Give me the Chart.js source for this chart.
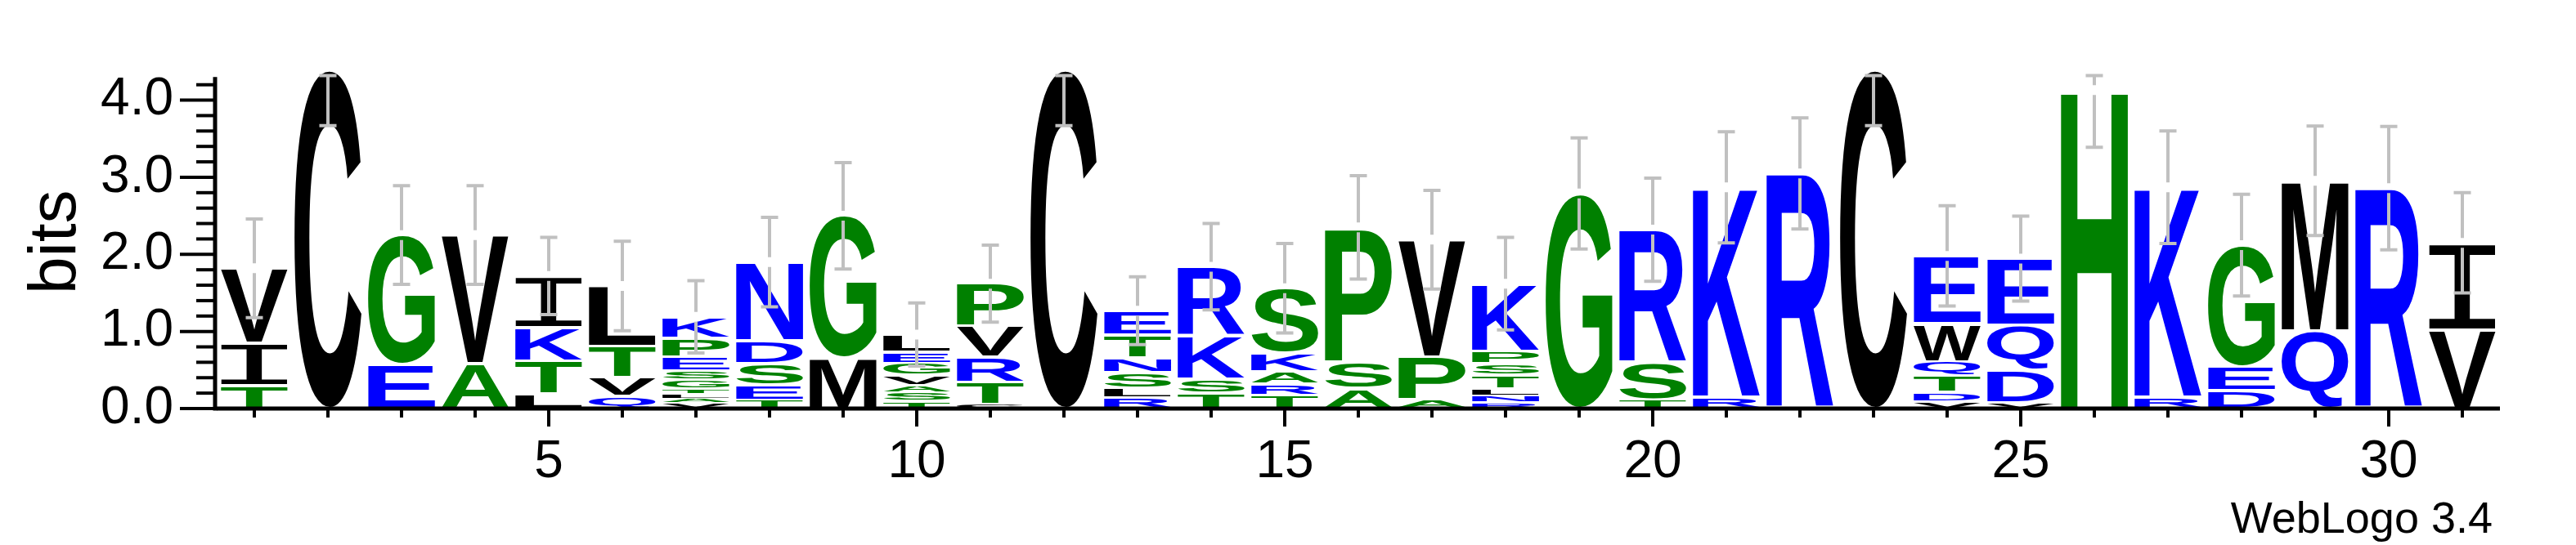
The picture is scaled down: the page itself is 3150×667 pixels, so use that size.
<!DOCTYPE html>
<html>
<head>
<meta charset="utf-8">
<script src="https://cdn.jsdelivr.net/npm/chart.js@4.4.1/dist/chart.umd.min.js"></script>
<style>
  html, body { margin: 0; padding: 0; background: #ffffff; }
  canvas { display: block; }
</style>
</head>
<body>
<canvas id="logo" width="3150" height="667" style="width:3150px;height:667px"></canvas>
<script>
// ---- data (letters stacked bottom -> top, heights in bits) ----
const positions = ['1','2','3','4','5','6','7','8','9','10','11','12','13','14','15','16',
                   '17','18','19','20','21','22','23','24','25','26','27','28','29','30','31'];

const stackLetters = [
  ['T','I','V'],
  ['C'],
  ['E','G'],
  ['A','V'],
  ['L','T','K','I'],
  ['Q','V','T','L'],
  ['V','A','L','T','G','S','E','P','K'],
  ['T','E','S','D','N'],
  ['M','G'],
  ['T','S','A','V','G','E','L'],
  ['C','T','R','V','P'],
  ['C'],
  ['R','L','S','N','T','E'],
  ['T','S','K','R'],
  ['T','R','A','K','S'],
  ['A','S','P'],
  ['A','P','V'],
  ['R','N','L','T','S','P','K'],
  ['G'],
  ['T','S','R'],
  ['R','K'],
  ['R'],
  ['C'],
  ['V','D','T','Q','W','E'],
  ['V','D','Q','E'],
  ['H'],
  ['R','K'],
  ['D','E','G'],
  ['Q','M'],
  ['R'],
  ['V','I']
];

const stackBits = [
  [0.30,0.545,0.975],
  [4.40],
  [0.57,1.68],
  [0.58,1.67],
  [0.19,0.43,0.43,0.67],
  [0.16,0.25,0.40,0.78],
  [0.08,0.05,0.06,0.065,0.12,0.115,0.18,0.245,0.275],
  [0.11,0.20,0.27,0.30,1.02],
  [0.65,1.85],
  [0.10,0.11,0.09,0.13,0.16,0.14,0.23],
  [0.05,0.29,0.33,0.40,0.55],
  [4.40],
  [0.14,0.13,0.20,0.19,0.30,0.31],
  [0.20,0.18,0.56,0.90],
  [0.17,0.15,0.16,0.24,0.84],
  [0.26,0.35,1.74],
  [0.12,0.55,1.52],
  [0.08,0.09,0.09,0.17,0.15,0.165,0.875],
  [2.79],
  [0.11,0.48,1.73],
  [0.15,2.72],
  [3.05],
  [4.40],
  [0.09,0.12,0.21,0.19,0.49,0.88],
  [0.08,0.42,0.58,0.865],
  [4.13],
  [0.15,2.72],
  [0.23,0.31,1.58],
  [1.01,1.945],
  [2.86],
  [1.02,1.13]
];

const errorBits = [0.64,0.73,0.64,0.64,0.50,0.58,0.47,0.58,0.69,0.41,0.50,0.73,0.44,0.56,0.58,0.67,
                   0.64,0.60,0.72,0.67,0.72,0.72,0.73,0.65,0.55,0.74,0.73,0.66,0.71,0.80,0.65];

const xTickLabels = ['5','10','15','20','25','30'];
const yTickLabels = ['0.0','1.0','2.0','3.0','4.0'];
const maxBits = 4.32;

const letterColors = {
  black: ['C','V','L','M','W','I','F'],
  green: ['G','A','T','S','P','H','Y'],
  blue:  ['E','K','Q','N','D','R']
};
const colorValues = { black: '#000000', green: '#008000', blue: '#0000ff' };

// ---- helpers ----
function colorOf(ch) {
  for (const k in letterColors) if (letterColors[k].includes(ch)) return colorValues[k];
  return '#000000';
}
const glyphCache = {};
function glyphFont(ch) {
  return ch === 'I' ? '200px "Liberation Mono"' : 'bold 200px "Liberation Sans"';
}
function drawGlyph(ctx, ch, x, y, w, h, color) {
  if (w <= 0 || h <= 0.2) return;
  ctx.save();
  ctx.font = glyphFont(ch);
  ctx.textAlign = 'left';
  ctx.textBaseline = 'alphabetic';
  let m = glyphCache[ch];
  if (!m) {
    const t = ctx.measureText(ch);
    m = { l: t.actualBoundingBoxLeft, r: t.actualBoundingBoxRight,
          a: t.actualBoundingBoxAscent, d: t.actualBoundingBoxDescent };
    glyphCache[ch] = m;
  }
  const iw = m.l + m.r, ih = m.a + m.d;
  ctx.translate(x, y);
  ctx.scale(w / iw, h / ih);
  ctx.fillStyle = color;
  ctx.fillText(ch, m.l, m.a);
  ctx.restore();
}

const nLayers = Math.max(...stackLetters.map(a => a.length));
const datasets = [];
for (let k = 0; k < nLayers; k++) {
  datasets.push({
    label: 'layer ' + (k + 1),
    data: stackBits.map(a => (a[k] === undefined ? 0 : a[k])),
    backgroundColor: 'rgba(0,0,0,0)',
    borderWidth: 0,
    barPercentage: 0.91,
    categoryPercentage: 1.0,
    stack: 'logo'
  });
}

const logoPlugin = {
  id: 'logoPlugin',
  afterDatasetsDraw(chart) {
    const ctx = chart.ctx;
    const xs = chart.scales.x, ys = chart.scales.y;
    // letters
    chart.data.datasets.forEach((ds, k) => {
      const meta = chart.getDatasetMeta(k);
      meta.data.forEach((bar, j) => {
        const ch = stackLetters[j][k];
        if (!ch) return;
        const p = bar.getProps(['x', 'y', 'base', 'width'], true);
        const top = Math.min(p.y, p.base), bot = Math.max(p.y, p.base);
        const h = bot - top;
        const g = Math.min(1.8, h * 0.15);
        drawGlyph(ctx, ch, p.x - p.width / 2, top + g, p.width, h - 2 * g, colorOf(ch));
      });
    });
    // error bars
    ctx.save();
    ctx.strokeStyle = '#c0c0c0';
    ctx.lineWidth = 4;
    ctx.lineCap = 'butt';
    stackBits.forEach((arr, j) => {
      const total = arr.reduce((s, v) => s + v, 0);
      const x = xs.getPixelForValue(j);
      const yc = ys.getPixelForValue(total);
      const yHi = ys.getPixelForValue(Math.min(total + errorBits[j], maxBits));
      const yLo = ys.getPixelForValue(Math.max(total - errorBits[j], 0));
      const gap = 6;
      ctx.beginPath();
      if (yc - gap > yHi) { ctx.moveTo(x, yHi); ctx.lineTo(x, yc - gap); }
      if (yLo > yc + gap) { ctx.moveTo(x, yc + gap); ctx.lineTo(x, yLo); }
      ctx.moveTo(x - 10.5, yHi); ctx.lineTo(x + 10.5, yHi);
      ctx.moveTo(x - 10.5, yLo); ctx.lineTo(x + 10.5, yLo);
      ctx.stroke();
    });
    ctx.restore();
  },
  afterDraw(chart) {
    const ctx = chart.ctx;
    const xs = chart.scales.x, ys = chart.scales.y;
    const y0 = ys.getPixelForValue(0);
    const axX = xs.left - 3;
    ctx.save();
    ctx.strokeStyle = '#000000';
    // y axis line
    ctx.lineWidth = 5;
    ctx.beginPath();
    ctx.moveTo(axX, ys.getPixelForValue(4.30));
    ctx.lineTo(axX, y0 + 2.5);
    ctx.stroke();
    // x axis line
    ctx.beginPath();
    ctx.moveTo(xs.left - 1, y0);
    ctx.lineTo(xs.right + 1, y0);
    ctx.stroke();
    // y ticks
    ctx.lineWidth = 4;
    for (let i = 0; i <= 21; i++) {
      const v = i * 0.2;
      const y = ys.getPixelForValue(v);
      const len = (i % 5 === 0) ? 43 : 23;
      ctx.beginPath();
      ctx.moveTo(axX - len, y);
      ctx.lineTo(axX, y);
      ctx.stroke();
    }
    // x ticks
    positions.forEach((p, j) => {
      const x = xs.getPixelForValue(j);
      const len = xTickLabels.includes(p) ? 22 : 11;
      ctx.beginPath();
      ctx.moveTo(x, y0);
      ctx.lineTo(x, y0 + len);
      ctx.stroke();
    });
    // version text
    ctx.fillStyle = '#000000';
    ctx.font = '54px "Liberation Sans"';
    ctx.textAlign = 'right';
    ctx.textBaseline = 'alphabetic';
    ctx.fillText('WebLogo 3.4', 3048, 652);
    ctx.restore();
  }
};

new Chart(document.getElementById('logo'), {
  type: 'bar',
  data: { labels: positions, datasets: datasets },
  options: {
    responsive: false,
    devicePixelRatio: 1,
    animation: false,
    layout: { padding: { top: 48, right: 94, bottom: 0, left: 0 } },
    plugins: { legend: { display: false }, tooltip: { enabled: false }, title: { display: false } },
    scales: {
      x: {
        type: 'category',
        stacked: true,
        offset: true,
        grid: { display: false, drawTicks: false },
        border: { display: false },
        ticks: {
          autoSkip: false,
          maxRotation: 0,
          minRotation: 0,
          padding: 28,
          color: '#000000',
          font: { family: '"Liberation Sans"', size: 64 },
          callback: function(value, index) {
            const lab = positions[index];
            return xTickLabels.includes(lab) ? lab : '';
          }
        },
        afterFit: function(scale) { scale.height = 167; }
      },
      y: {
        stacked: true,
        min: 0,
        max: maxBits,
        grid: { display: false, drawTicks: false },
        border: { display: false },
        afterBuildTicks: function(scale) {
          scale.ticks = yTickLabels.map(t => ({ value: parseFloat(t) }));
        },
        ticks: {
          padding: 54,
          color: '#000000',
          font: { family: '"Liberation Sans"', size: 64 },
          callback: function(value) {
            const s = Number(value).toFixed(1);
            return yTickLabels.includes(s) ? s : '';
          }
        },
        title: {
          display: true,
          text: 'bits',
          color: '#000000',
          font: { family: '"Liberation Sans"', size: 82 },
          padding: { top: 20, bottom: 0 }
        },
        afterFit: function(scale) { scale.width = 266; }
      }
    }
  },
  plugins: [logoPlugin]
});
</script>
</body>
</html>
